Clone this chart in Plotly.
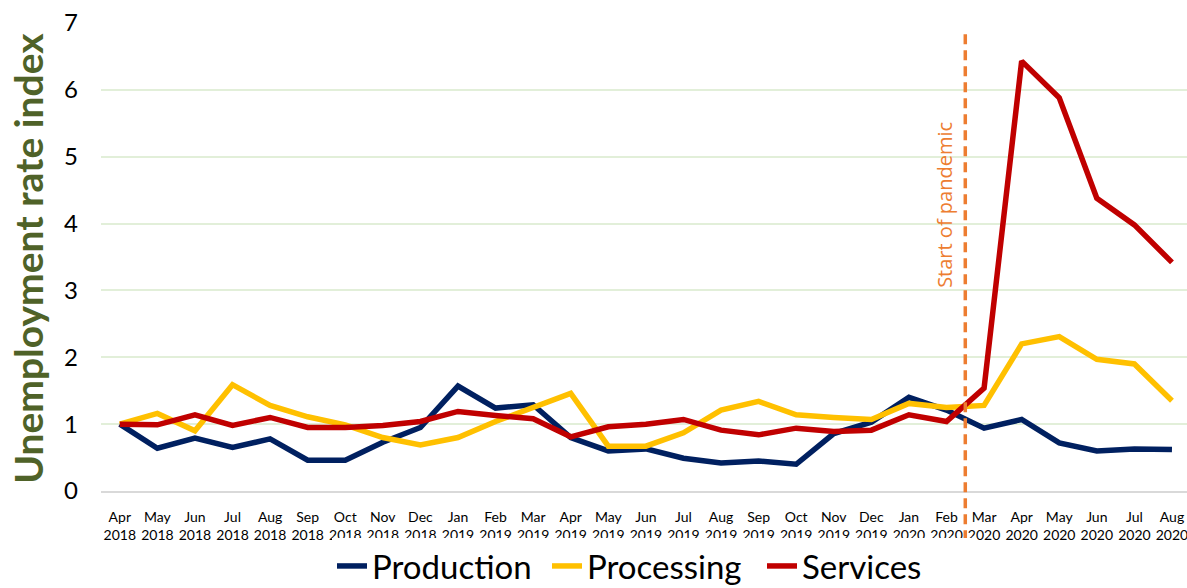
import plotly.graph_objects as go

# Monthly categories, Apr 2018 - Aug 2020
months = ["Apr", "May", "Jun", "Jul", "Aug", "Sep", "Oct", "Nov", "Dec", "Jan", "Feb", "Mar",
          "Apr", "May", "Jun", "Jul", "Aug", "Sep", "Oct", "Nov", "Dec", "Jan", "Feb", "Mar",
          "Apr", "May", "Jun", "Jul", "Aug"]
years = ["2018"] * 9 + ["2019"] * 12 + ["2020"] * 8
tick_labels = [f"{m}<br>{y}" for m, y in zip(months, years)]

# Unemployment rate index (Apr 2018 = 1)
production = [1.00, 0.64, 0.79, 0.65, 0.78, 0.46, 0.46, 0.73, 0.95, 1.57, 1.24, 1.29,
              0.80, 0.60, 0.63, 0.49, 0.42, 0.45, 0.40, 0.86, 1.03, 1.40, 1.21, 0.94,
              1.07, 0.72, 0.60, 0.63, 0.62]
processing = [1.00, 1.16, 0.90, 1.59, 1.28, 1.11, 0.99, 0.80, 0.69, 0.80, 1.04, 1.24,
              1.46, 0.67, 0.67, 0.87, 1.21, 1.34, 1.14, 1.10, 1.07, 1.31, 1.25, 1.28,
              2.20, 2.31, 1.97, 1.90, 1.35]
services = [1.00, 0.99, 1.14, 0.98, 1.10, 0.95, 0.95, 0.98, 1.04, 1.19, 1.13, 1.08,
            0.81, 0.96, 1.00, 1.07, 0.91, 0.84, 0.94, 0.89, 0.91, 1.14, 1.04, 1.54,
            6.43, 5.88, 4.38, 3.98, 3.42]

series = [("Production", production, "#002060"),
          ("Processing", processing, "#FFC000"),
          ("Services", services, "#C00000")]

x = list(range(len(tick_labels)))
pandemic_start = 22.5  # between Feb 2020 and Mar 2020

FONT = "Lato"
PLOT_LEFT, PLOT_WIDTH = 101, 1086

fig = go.Figure()
for name, values, color in series:
    fig.add_trace(go.Scatter(
        x=x, y=values, name=name, mode="lines",
        line=dict(color=color, width=5.5),
    ))

# Vertical dashed marker for the start of the pandemic
fig.add_shape(
    type="line", xref="x", yref="paper",
    x0=pandemic_start, x1=pandemic_start, y0=-0.105, y1=0.989,
    line=dict(color="#ED7D31", width=3.5, dash="10px,6px"),
    layer="above",
)
fig.add_annotation(
    x=21.96, y=4.28, xref="x", yref="y",
    text="Start of pandemic", textangle=-90, showarrow=False,
    font=dict(family="Open Sans", size=20, color="#ED7D31"),
)

# Y-axis title
fig.add_annotation(
    x=(28 - PLOT_LEFT) / PLOT_WIDTH, y=0.496, xref="paper", yref="paper",
    xanchor="center", yanchor="middle",
    text="<b>Unemployment rate index</b>", textangle=-90, showarrow=False,
    font=dict(family=FONT, size=39, color="#4F6228"),
)

fig.update_layout(
    width=1187, height=588,
    margin=dict(l=PLOT_LEFT, r=0, t=23, b=97),
    plot_bgcolor="white", paper_bgcolor="white",
    font=dict(family=FONT, color="#000000"),
    showlegend=True,
    legend=dict(
        orientation="h", xref="container", yref="container",
        x=332 / 1187, xanchor="left",
        y=22 / 588, yanchor="middle",
        font=dict(family=FONT, size=33, color="#000000"),
        itemwidth=30, tracegroupgap=0, entrywidth=170,
    ),
)

fig.update_xaxes(
    tickmode="array", tickvals=x, ticktext=tick_labels,
    range=[-0.5, 28.4],
    tickfont=dict(family=FONT, size=14, color="#000000"),
    showgrid=False, zeroline=False,
    showline=True, linecolor="#D9D9D9", linewidth=1.5,
    ticks="", tickangle=0, ticklabelstandoff=12, ticklabeloverflow="allow",
    automargin=False,
)
fig.update_yaxes(
    range=[0, 7], dtick=1,
    tickfont=dict(family=FONT, size=24, color="#000000"),
    showgrid=True, gridcolor="#E2EFD9", gridwidth=1.5,
    zeroline=False, ticks="", ticklabelstandoff=22,
    automargin=False,
)

fig.write_html("out.html")
